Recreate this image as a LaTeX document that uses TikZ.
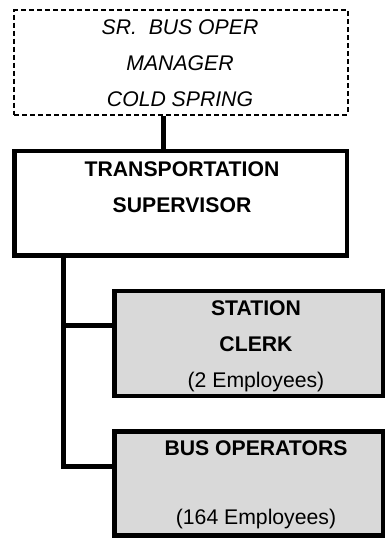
\documentclass[tikz,border=0pt]{standalone}
\usepackage{fontspec}
\setmainfont{Liberation Sans}
\definecolor{boxgray}{HTML}{D9D9D9}
\tikzset{
  boxtext/.style={font=\fontsize{21.2}{35.7}\selectfont, align=center, inner sep=0pt, anchor=north},
  mgrbox/.style={draw, line width=2pt, dash pattern=on 5pt off 3pt, inner sep=0pt},
  supbox/.style={draw, line width=4.5pt, inner sep=0pt},
  subbox/.style={draw, line width=4.5pt, fill=boxgray, inner sep=0pt,
    minimum width=268.8pt, minimum height=105pt},
  conn/.style={line width=4.7pt}
}
\begin{document}
\begin{tikzpicture}[x=1pt,y=1pt]
\useasboundingbox (0,0) rectangle (385,-538);

% boxes
\node[mgrbox, minimum width=333.7pt, minimum height=104.2pt] (mgr) at (181.2,-62.4) {};
\node[supbox, minimum width=332.5pt, minimum height=104.7pt] (sup) at (180.75,-203.3) {};
\node[subbox] (clerk) at (248.9,-343.3) {};
\node[subbox, minimum height=104pt] (bus) at (248.9,-483.3) {};

% texts
\node[boxtext, font=\fontsize{21.2}{35.7}\selectfont\itshape] (mgrtext) at (180,-19.8)
  {SR.\ \ BUS OPER\\MANAGER\\COLD SPRING};
\node[boxtext, font=\fontsize{21.2}{35.7}\selectfont\bfseries] (suptext) at (182,-161.8)
  {TRANSPORTATION\\SUPERVISOR};
\node[boxtext] (clerktext) at (256,-300.8)
  {\textbf{STATION}\\\textbf{CLERK}\\(2 Employees)};
\node[boxtext] (bustext) at (256,-440.8)
  {\textbf{BUS OPERATORS}\\[33.3pt](164 Employees)};

% connectors
\coordinate (spine) at ([xshift=-117pt]sup.south);
\coordinate (clerkjoin) at ([yshift=17.5pt]clerk.west);
\coordinate (busjoin) at ([yshift=17pt]bus.west);
\draw[conn] ([xshift=-18pt]mgr.south) -- ([xshift=-18pt]mgr.south |- sup.north);
\draw[conn] (spine) |- (busjoin);
\draw[conn] (spine |- clerkjoin) -- (clerkjoin);
\end{tikzpicture}
\end{document}
